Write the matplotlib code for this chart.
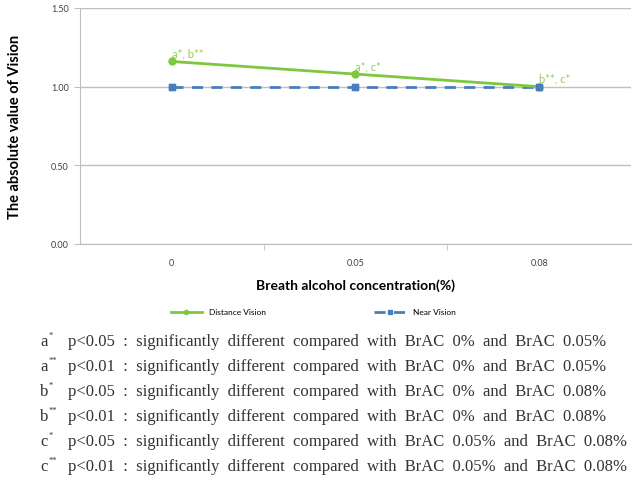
import matplotlib
matplotlib.use("Agg")
import matplotlib.pyplot as plt

categories = ["0", "0.05", "0.08"]
distance_vision = [1.16, 1.08, 1.00]
near_vision = [1.00, 1.00, 1.00]
distance_notes = ["a*, b**", "a*, c*", "b**, c*"]
y_ticks = [0.00, 0.50, 1.00, 1.50]
foot_letters = ["a", "a", "b", "b", "c", "c"]
foot_stars = ["*", "**", "*", "**", "*", "**"]
foot_texts = [
    "p<0.05 : significantly different compared with BrAC 0% and BrAC 0.05%",
    "p<0.01 : significantly different compared with BrAC 0% and BrAC 0.05%",
    "p<0.05 : significantly different compared with BrAC 0% and BrAC 0.08%",
    "p<0.01 : significantly different compared with BrAC 0% and BrAC 0.08%",
    "p<0.05 : significantly different compared with BrAC 0.05% and BrAC 0.08%",
    "p<0.01 : significantly different compared with BrAC 0.05% and BrAC 0.08%",
]

plt.rcParams["font.family"] = ["Lato", "DejaVu Sans"]

W, H = 633, 481
fig = plt.figure(figsize=(W / 100, H / 100), dpi=100)
ax = fig.add_axes([80 / W, 1 - 245 / H, 551 / W, 236 / H])

green = "#7dc83f"
blue = "#4a7ebb"
x = list(range(len(categories)))
ax.plot(x, near_vision, color=blue, lw=2, ls=(0, (4, 3)), marker="s", ms=5, label="Near Vision", zorder=2)
ax.plot(x, distance_vision, color=green, lw=2, marker="o", ms=5, label="Distance Vision", zorder=3)
ax.plot(x, near_vision, color=blue, lw=0, marker="s", ms=5, zorder=4)

for xi, yi, t in zip(x, distance_vision, distance_notes):
    ax.annotate(t, (xi, yi), xytext=(0, 2), textcoords="offset points",
                color="#92d050", fontsize=8, ha="left", va="bottom")

ax.set_xlim(-0.5, len(categories) - 0.5)
ax.set_ylim(0, 1.5)
ax.set_yticks(y_ticks)
ax.set_yticklabels([f"{v:.2f}" for v in y_ticks], fontsize=6.5, color="#404040")
ax.set_xticks(x)
ax.set_xticklabels(categories, fontsize=6.5, color="#404040")
ax.set_xticks([0.5, 1.5], minor=True)
ax.tick_params(axis="x", which="major", length=0, pad=10)
ax.tick_params(axis="x", which="minor", length=4, color="#bfbfbf")
ax.tick_params(axis="y", length=4, color="#bfbfbf", pad=4)
ax.grid(axis="y", color="#bfbfbf", lw=1)
ax.set_axisbelow(True)
for s in ["top", "right"]:
    ax.spines[s].set_visible(False)
for s in ["left", "bottom"]:
    ax.spines[s].set_color("#bfbfbf")
ax.set_ylabel("The absolute value of Vision", fontsize=10.5, fontweight="bold")
ax.yaxis.set_label_coords((22 - 80) / 551, 0.5)
ax.set_xlabel("Breath alcohol concentration(%)", fontsize=10, fontweight="bold", labelpad=8)

handles, labels = ax.get_legend_handles_labels()
fig.legend(handles[::-1], labels[::-1], loc="center", bbox_to_anchor=(313 / W, 1 - 313 / H), ncol=2,
           frameon=False, fontsize=6, columnspacing=13, handlelength=3.8, markerscale=0.6)

serif = ["Liberation Serif", "DejaVu Serif"]
y0 = 342
for i, (l, st, t) in enumerate(zip(foot_letters, foot_stars, foot_texts)):
    yy = 1 - (y0 + i * 25) / H
    tt = t.replace(" ", "  ")
    fig.text(40 / W, yy, l, fontsize=12, family=serif, color="#333333", va="center")
    fig.text(49 / W, yy + 6 / H, st, fontsize=6, family=serif, color="#333333", va="center")
    fig.text(68 / W, yy, tt, fontsize=12, family=serif, color="#333333", va="center")

fig.savefig("out.png", dpi=100)
